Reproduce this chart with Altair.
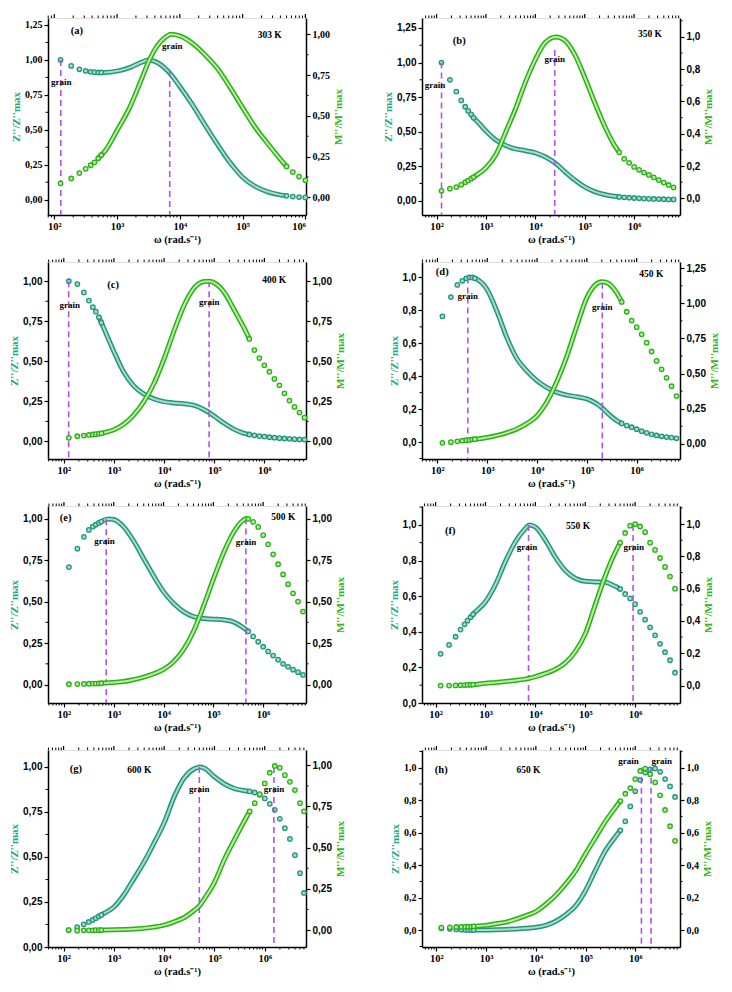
import altair as alt
import numpy as np
import pandas as pd

# ---------------- data (log10 of angular frequency, normalised Z'' and M'') ----------------
a_logw = [2.10, 2.27, 2.40, 2.50, 2.58, 2.64, 2.70, 2.75, 2.8, 3.0, 3.2, 3.4, 3.5, 3.6, 3.8, 3.85, 4.0, 4.2, 4.4,
          4.6, 4.8, 5.0, 5.2, 5.4, 5.6, 5.7, 5.8, 5.9, 6.0]
a_z = [1.0, 0.957, 0.933, 0.921, 0.915, 0.912, 0.91, 0.91, 0.91, 0.92, 0.945, 0.985, 1.0, 0.99, 0.925, 0.9, 0.81,
       0.68, 0.535, 0.395, 0.265, 0.16, 0.095, 0.056, 0.034, 0.027, 0.022, 0.018, 0.016]
a_m = [0.086, 0.116, 0.149, 0.175, 0.197, 0.215, 0.24, 0.26, 0.28, 0.41, 0.55, 0.735, 0.83, 0.905, 0.99, 1.0, 0.99,
       0.945, 0.875, 0.79, 0.675, 0.55, 0.43, 0.33, 0.235, 0.19, 0.155, 0.128, 0.105]

b_logw = [2.10, 2.27, 2.40, 2.50, 2.58, 2.64, 2.70, 2.75, 2.8, 3.0, 3.2, 3.4, 3.6, 3.8, 4.0, 4.2, 4.42, 4.6, 4.8,
          5.0, 5.2, 5.4, 5.6, 5.7, 5.8, 5.9, 6.0, 6.1, 6.2, 6.3, 6.4, 6.5, 6.6, 6.7, 6.8]
b_z = [1.0, 0.875, 0.79, 0.726, 0.68, 0.65, 0.625, 0.60, 0.583, 0.505, 0.44, 0.40, 0.375, 0.362, 0.347, 0.318, 0.268,
       0.21, 0.15, 0.10, 0.066, 0.045, 0.033, 0.028, 0.025, 0.022, 0.02, 0.018, 0.016, 0.014, 0.013, 0.012, 0.011,
       0.01, 0.01]
b_m = [0.047, 0.06, 0.07, 0.085, 0.1, 0.11, 0.122, 0.132, 0.142, 0.19, 0.27, 0.41, 0.555, 0.72, 0.86, 0.965, 1.0,
       0.978, 0.89, 0.75, 0.595, 0.45, 0.33, 0.285, 0.245, 0.22, 0.195, 0.177, 0.16, 0.145, 0.13, 0.113, 0.098,
       0.083, 0.068]

c_logw = [2.10, 2.27, 2.40, 2.50, 2.58, 2.64, 2.70, 2.75, 2.8, 3.0, 3.2, 3.4, 3.6, 3.8, 4.0, 4.2, 4.4, 4.6, 4.8, 4.9,
          5.0, 5.2, 5.4, 5.6, 5.7, 5.8, 5.9, 6.0, 6.1, 6.2, 6.3, 6.4, 6.5, 6.6, 6.7, 6.8]
c_z = [1.0, 0.982, 0.93, 0.879, 0.838, 0.81, 0.775, 0.741, 0.705, 0.56, 0.43, 0.345, 0.295, 0.265, 0.248, 0.24,
       0.235, 0.225, 0.198, 0.18, 0.158, 0.113, 0.075, 0.05, 0.043, 0.038, 0.033, 0.03, 0.026, 0.023, 0.02, 0.018,
       0.016, 0.014, 0.012, 0.011]
c_m = [0.022, 0.032, 0.036, 0.04, 0.043, 0.045, 0.048, 0.05, 0.054, 0.073, 0.108, 0.167, 0.25, 0.363, 0.516, 0.692,
       0.85, 0.958, 0.998, 1.0, 0.99, 0.93, 0.82, 0.705, 0.64, 0.57, 0.52, 0.475, 0.435, 0.39, 0.35, 0.3, 0.255,
       0.215, 0.18, 0.148]

d_logw = [2.10, 2.27, 2.40, 2.50, 2.58, 2.64, 2.70, 2.75, 2.8, 3.0, 3.2, 3.4, 3.6, 3.8, 4.0, 4.2, 4.4, 4.6, 4.8, 5.0,
          5.2, 5.3, 5.4, 5.6, 5.7, 5.8, 5.9, 6.0, 6.1, 6.2, 6.3, 6.4, 6.5, 6.6, 6.7, 6.8]
d_z = [0.764, 0.881, 0.955, 0.98, 0.995, 1.0, 1.0, 0.995, 0.988, 0.925, 0.79, 0.63, 0.505, 0.43, 0.372, 0.331,
       0.302, 0.285, 0.275, 0.262, 0.232, 0.21, 0.18, 0.13, 0.113, 0.1, 0.09, 0.078, 0.066, 0.056, 0.047, 0.04,
       0.035, 0.03, 0.027, 0.023]
d_m = [0.007, 0.012, 0.018, 0.022, 0.026, 0.028, 0.031, 0.033, 0.035, 0.045, 0.06, 0.08, 0.106, 0.145, 0.2, 0.3,
       0.445, 0.625, 0.84, 1.04, 1.14, 1.154, 1.148, 1.075, 1.01, 0.94, 0.877, 0.83, 0.779, 0.72, 0.657, 0.59,
       0.53, 0.47, 0.41, 0.34]

e_logw = [2.10, 2.27, 2.40, 2.50, 2.58, 2.64, 2.70, 2.75, 2.8, 2.9, 3.0, 3.2, 3.4, 3.6, 3.8, 4.0, 4.2, 4.4, 4.6,
          4.8, 5.0, 5.2, 5.4, 5.6, 5.66, 5.7, 5.8, 5.9, 6.0, 6.1, 6.2, 6.3, 6.4, 6.5, 6.6, 6.7, 6.8]
e_z = [0.708, 0.819, 0.89, 0.932, 0.952, 0.963, 0.974, 0.982, 0.99, 0.998, 0.995, 0.95, 0.865, 0.76, 0.655, 0.56,
       0.49, 0.44, 0.41, 0.398, 0.394, 0.39, 0.378, 0.343, 0.33, 0.32, 0.29, 0.258, 0.228, 0.2, 0.175, 0.15,
       0.125, 0.107, 0.09, 0.075, 0.058]
e_m = [0.002, 0.003, 0.004, 0.005, 0.006, 0.006, 0.007, 0.008, 0.009, 0.011, 0.013, 0.018, 0.03, 0.045, 0.065,
       0.092, 0.137, 0.21, 0.32, 0.47, 0.635, 0.79, 0.915, 0.99, 1.0, 0.998, 0.98, 0.95, 0.9, 0.845, 0.785, 0.725,
       0.664, 0.605, 0.55, 0.5, 0.44]

f_logw = [2.10, 2.27, 2.40, 2.50, 2.58, 2.64, 2.70, 2.75, 2.8, 3.0, 3.2, 3.4, 3.6, 3.8, 3.88, 4.0, 4.2, 4.4, 4.6,
          4.8, 5.0, 5.2, 5.4, 5.6, 5.7, 5.8, 5.9, 6.0, 6.1, 6.2, 6.3, 6.4, 6.5, 6.6, 6.7, 6.8]
f_z = [0.276, 0.326, 0.372, 0.412, 0.442, 0.462, 0.482, 0.498, 0.512, 0.569, 0.665, 0.795, 0.905, 0.98, 1.0, 0.988,
       0.915, 0.819, 0.744, 0.7, 0.683, 0.68, 0.678, 0.655, 0.64, 0.612, 0.587, 0.555, 0.512, 0.468, 0.425, 0.38,
       0.332, 0.285, 0.24, 0.17]
f_m = [0.0, 0.0, 0.001, 0.002, 0.003, 0.004, 0.005, 0.006, 0.007, 0.014, 0.019, 0.025, 0.032, 0.04, 0.045, 0.055,
       0.075, 0.1, 0.14, 0.21, 0.32, 0.5, 0.678, 0.825, 0.885, 0.945, 0.99, 1.0, 0.985, 0.95, 0.885, 0.84, 0.79,
       0.735, 0.675, 0.6]

g_logw = [2.10, 2.27, 2.40, 2.50, 2.58, 2.64, 2.70, 2.75, 2.8, 3.0, 3.2, 3.4, 3.6, 3.8, 4.0, 4.2, 4.4, 4.6, 4.71,
          4.8, 5.0, 5.2, 5.4, 5.6, 5.7, 5.8, 5.9, 6.0, 6.1, 6.2, 6.3, 6.4, 6.5, 6.6, 6.7, 6.78]
g_z = [0.094, 0.11, 0.126, 0.139, 0.15, 0.16, 0.17, 0.178, 0.186, 0.222, 0.29, 0.38, 0.472, 0.578, 0.69, 0.835,
       0.94, 0.99, 1.0, 0.993, 0.945, 0.905, 0.88, 0.868, 0.864, 0.858, 0.845, 0.825, 0.795, 0.762, 0.712, 0.66,
       0.6, 0.51, 0.41, 0.3]
g_m = [0.0, -0.004, -0.002, -0.002, -0.002, -0.001, -0.001, 0.0, 0.0, 0.001, 0.003, 0.006, 0.011, 0.018, 0.03,
       0.05, 0.076, 0.12, 0.15, 0.19, 0.29, 0.43, 0.55, 0.665, 0.72, 0.77, 0.825, 0.89, 0.955, 0.996, 0.985, 0.94,
       0.9, 0.85, 0.77, 0.72]

h_logw = [2.10, 2.27, 2.40, 2.50, 2.58, 2.64, 2.70, 2.75, 2.8, 3.0, 3.2, 3.4, 3.6, 3.8, 4.0, 4.2, 4.4, 4.6, 4.8,
          5.0, 5.2, 5.4, 5.6, 5.7, 5.8, 5.9, 6.0, 6.1, 6.2, 6.3, 6.4, 6.5, 6.6, 6.7, 6.8]
h_z = [0.012, 0.008, 0.005, 0.003, 0.002, 0.002, 0.001, 0.001, 0.001, 0.002, 0.003, 0.005, 0.008, 0.012, 0.018,
       0.03, 0.055, 0.095, 0.15, 0.245, 0.37, 0.49, 0.575, 0.615, 0.67, 0.762, 0.855, 0.925, 0.97, 0.99, 0.995,
       0.975, 0.93, 0.885, 0.82]
h_m = [0.016, 0.018, 0.02, 0.021, 0.022, 0.022, 0.023, 0.024, 0.025, 0.03, 0.04, 0.05, 0.068, 0.09, 0.115, 0.16,
       0.215, 0.285, 0.365, 0.47, 0.57, 0.67, 0.755, 0.795, 0.84, 0.875, 0.93, 0.98, 0.995, 0.96, 0.91, 0.83,
       0.74, 0.64, 0.55]

# peak markers (omega, top value on left axis) and labels
a_peaks = [(127, 1.0), (6900, 0.92)]
b_peaks = [(126, 1.0), (24700, 1.09)]
c_peaks = [(125, 1.0), (79000, 1.0)]
d_peaks = [(407, 1.0), (204000, 0.969)]
e_peaks = [(705, 0.996), (450000, 1.0)]
f_peaks = [(7300, 1.0), (910000, 1.0)]
g_peaks = [(50000, 1.0), (1520000, 1.0)]
h_peaks = [(1330000, 1.0), (2080000, 1.0)]

a_grain = [(129, 0.843), (7600, 1.10)]
b_grain = [(93, 0.84), (24700, 1.026)]
c_grain = [(131, 0.85), (80000, 0.868)]
d_grain = [(407, 0.885), (204000, 0.822)]
e_grain = [(655, 0.865), (450000, 0.859)]
f_grain = [(6800, 0.878), (940000, 0.878)]
g_grain = [(50000, 0.875), (1520000, 0.875)]
h_grain = [(730000, 1.04), (3400000, 1.04)]

panel_tags = ["(a)", "(b)", "(c)", "(d)", "(e)", "(f)", "(g)", "(h)"]
tag_pos = [(230, 1.207), (288, 1.159), (960, 0.978), (125, 1.031), (108, 1.006), (196, 0.967), (175, 0.991),
           (125, 0.986)]
temps = ["303 K", "350 K", "400 K", "450 K", "500 K", "550 K", "600 K", "650 K"]
temp_pos = [(270000, 1.176), (2100000, 1.209), (1570000, 1.007), (1970000, 1.021), (2540000, 1.012),
            (72000, 0.991), (3200, 0.984), (7100, 0.986)]

x_domains = [(1.9, 6.01), (1.705, 6.93), (1.685, 6.83), (1.69, 6.87), (1.68, 6.86), (1.727, 6.90), (1.69, 6.82),
             (1.71, 6.90)]
left_domains = [(-0.11, 1.30), (-0.103, 1.322), (-0.11, 1.12), (-0.103, 1.094), (-0.111, 1.076), (0.0, 1.106),
                (0.0, 1.094), (-0.103, 1.109)]
right_domains = [(-0.108, 1.10), (-0.103, 1.117), (-0.11, 1.12), (-0.108, 1.294), (-0.111, 1.076),
                 (-0.108, 1.112), (-0.103, 1.093), (-0.103, 1.109)]
left_ticks = [(0.25, 1.25), (0.25, 1.25), (0.25, 1.0), (0.2, 1.0), (0.25, 1.0), (0.2, 1.0), (0.25, 1.0), (0.2, 1.0)]
right_ticks = [(0.25, 1.0), (0.2, 1.0), (0.25, 1.0), (0.25, 1.25), (0.25, 1.0), (0.2, 1.0), (0.25, 1.0), (0.2, 1.0)]
label_fonts = ["Liberation Serif", "Liberation Sans", "Liberation Sans", "Liberation Sans", "Liberation Sans",
               "Liberation Sans", "Liberation Sans", "Liberation Serif"]

# ---------------- styling ----------------
W, H = 258, 197
TEAL, TEAL_L = "#23967a", "#a6dccb"
GREEN, GREEN_L = "#2cb01a", "#b8eca0"
TEAL_T, GREEN_T = "#22a880", "#35b515"
PURPLE = "#b050f8"
SERIF = "Liberation Serif"

X_LABEL = ("datum.value == 100 ? '10\u00b2' : datum.value == 1000 ? '10\u00b3' : "
           "datum.value == 10000 ? '10\u2074' : datum.value == 100000 ? '10\u2075' : '10\u2076'")


def ticks_for(step, top):
    n = int(round(top / step))
    return [round(i * step, 3) for i in range(n + 1)]


def yaxis(orient, step, top, title, color, font):
    fmt = ".2f" if step == 0.25 else ".1f"
    kw = dict(orient=orient, values=ticks_for(step, top),
              labelExpr=f"replace(format(datum.value, '{fmt}'), '.', ',')",
              labelFont=font, labelFontWeight="bold", labelFontSize=10, labelColor="black", labelPadding=2,
              tickSize=4, tickColor="black", tickWidth=1.2, domainColor="black", domainWidth=1.5, grid=False,
              title=title, titleColor=color, titleFont=SERIF, titleFontWeight="bold", titleFontSize=11,
              titlePadding=3)
    if orient == "right":
        kw["titleAngle"] = 270
        kw["titleBaseline"] = "top"
    return alt.Axis(**kw)


def panel(i, logw, zv, mv, peaks, grains):
    lw = np.array(logw)
    df = pd.DataFrame({"w": 10 ** lw, "z": zv, "m": mv})
    line_df = df[(lw >= 2.70) & (lw <= 5.7)]
    pts_df = df[(lw <= 2.75) | (lw >= 5.7)]

    xd = x_domains[i]
    xscale = alt.Scale(type="log", domain=[10 ** xd[0], 10 ** xd[1]], nice=False, zero=False)
    xaxis = alt.Axis(values=[100, 1000, 10000, 100000, 1000000], labelExpr=X_LABEL, labelFont=SERIF,
                     labelFontWeight="bold", labelFontSize=10.5, labelColor="black", labelPadding=2,
                     tickSize=4, tickColor="black", tickWidth=1.2, domainColor="black", domainWidth=1.5,
                     grid=False, title="\u03c9 (rad.s\u207b\u00b9)", titleFont=SERIF, titleFontWeight="bold",
                     titleFontSize=10.5, titleColor="black", titlePadding=3)

    def X(f):
        return alt.X(f, type="quantitative", scale=xscale, axis=xaxis)

    ls = alt.Scale(domain=list(left_domains[i]), nice=False, zero=False)
    rs = alt.Scale(domain=list(right_domains[i]), nice=False, zero=False)
    lax = yaxis("left", *left_ticks[i], "Z''/Z''max", TEAL_T, label_fonts[i])
    rax = yaxis("right", *right_ticks[i], "M''/M''max", GREEN_T, label_fonts[i])

    def YL(f):
        return alt.Y(f, type="quantitative", scale=ls, axis=lax)

    def YR(f):
        return alt.Y(f, type="quantitative", scale=rs, axis=rax)

    # tick marks beyond what the axes draw: minor ticks and the mirrored top edge
    major_x = [v for v in [100, 1000, 10000, 100000, 1000000] if 10 ** xd[0] <= v <= 10 ** xd[1]]
    minor_x = [k * 10 ** d for d in range(1, 8) for k in range(2, 10)
               if 10 ** xd[0] <= k * 10 ** d <= 10 ** xd[1]]
    lstep, ltop = left_ticks[i]
    rstep, rtop = right_ticks[i]
    minor_l = [v + lstep / 2 for v in ticks_for(lstep, ltop)
               if left_domains[i][0] <= v + lstep / 2 <= left_domains[i][1]]
    minor_l += [v for v in [-lstep / 2] if v >= left_domains[i][0]]
    minor_r = [v + rstep / 2 for v in ticks_for(rstep, rtop)
               if right_domains[i][0] <= v + rstep / 2 <= right_domains[i][1]]

    mx = alt.Chart(pd.DataFrame({"w": minor_x})).mark_rule(color="black", strokeWidth=1).encode(
        x=X("w"), y=alt.value(H), y2=alt.value(H + 2.5))
    mxt = alt.Chart(pd.DataFrame({"w": minor_x})).mark_rule(color="black", strokeWidth=1).encode(
        x=X("w"), y=alt.value(0), y2=alt.value(-2.5))
    Mxt = alt.Chart(pd.DataFrame({"w": major_x})).mark_rule(color="black", strokeWidth=1.2).encode(
        x=X("w"), y=alt.value(0), y2=alt.value(-4))
    ml = alt.Chart(pd.DataFrame({"v": minor_l})).mark_rule(color="black", strokeWidth=1).encode(
        y=YL("v"), x=alt.value(0), x2=alt.value(-2.5))
    mr = alt.Chart(pd.DataFrame({"v": minor_r})).mark_rule(color="black", strokeWidth=1).encode(
        y=YR("v"), x=alt.value(W), x2=alt.value(W + 2.5))

    pk = pd.DataFrame({"w": [p[0] for p in peaks], "y": [p[1] for p in peaks]})
    gr = pd.DataFrame({"w": [g[0] for g in grains], "y": [g[1] for g in grains], "t": ["grain", "grain"]})
    tg = pd.DataFrame({"w": [tag_pos[i][0], temp_pos[i][0]], "y": [tag_pos[i][1], temp_pos[i][1]],
                       "t": [panel_tags[i], temps[i]], "s": [10.5, 9.5]})

    z_line = alt.Chart(line_df).mark_line(color=TEAL, strokeWidth=5, interpolate="monotone").encode(
        x=X("w"), y=YL("z"))
    z_line2 = alt.Chart(line_df).mark_line(color=TEAL_L, strokeWidth=2, interpolate="monotone").encode(
        x=X("w"), y=YL("z"))
    z_pts = alt.Chart(pts_df).mark_point(shape="circle", size=20, filled=True, fill=TEAL_L, stroke=TEAL,
                                         strokeWidth=1.3, opacity=1).encode(x=X("w"), y=YL("z"))
    rules = alt.Chart(pk).mark_rule(color=PURPLE, strokeWidth=1.6, strokeDash=[6, 4]).encode(
        x=X("w"), y=YL("y"), y2=alt.value(H))
    gtext = alt.Chart(gr).mark_text(font=SERIF, fontWeight="bold", fontSize=9, color="black",
                                    baseline="middle").encode(x=X("w"), y=YL("y"), text="t:N")
    ttext = alt.Chart(tg).mark_text(font=SERIF, fontWeight="bold", color="black", baseline="middle").encode(
        x=X("w"), y=YL("y"), text="t:N", size=alt.Size("s:Q", scale=None, legend=None))

    m_line = alt.Chart(line_df).mark_line(color=GREEN, strokeWidth=5, interpolate="monotone").encode(
        x=X("w"), y=YR("m"))
    m_line2 = alt.Chart(line_df).mark_line(color=GREEN_L, strokeWidth=2, interpolate="monotone").encode(
        x=X("w"), y=YR("m"))
    m_pts = alt.Chart(pts_df).mark_point(shape="circle", size=20, filled=True, fill=GREEN_L, stroke=GREEN,
                                         strokeWidth=1.3, opacity=1).encode(x=X("w"), y=YR("m"))

    left = alt.layer(z_line, z_line2, z_pts, mx, mxt, Mxt, ml, rules, gtext, ttext)
    right = alt.layer(m_line, m_line2, m_pts, mr)
    return alt.layer(left, right).resolve_scale(y="independent").properties(width=W, height=H)


series = [
    (a_logw, a_z, a_m, a_peaks, a_grain),
    (b_logw, b_z, b_m, b_peaks, b_grain),
    (c_logw, c_z, c_m, c_peaks, c_grain),
    (d_logw, d_z, d_m, d_peaks, d_grain),
    (e_logw, e_z, e_m, e_peaks, e_grain),
    (f_logw, f_z, f_m, f_peaks, f_grain),
    (g_logw, g_z, g_m, g_peaks, g_grain),
    (h_logw, h_z, h_m, h_peaks, h_grain),
]
panels = [panel(i, *s) for i, s in enumerate(series)]

chart = alt.concat(*panels, columns=2, spacing={"row": 47, "column": 116}, bounds="flush", align="all").properties(
    padding={"left": 0, "top": 4, "right": 0, "bottom": 0}
).configure_view(stroke="black", strokeWidth=1.5).configure(background="white")

chart.save("out.html", embed_options={"renderer": "svg", "actions": False})
